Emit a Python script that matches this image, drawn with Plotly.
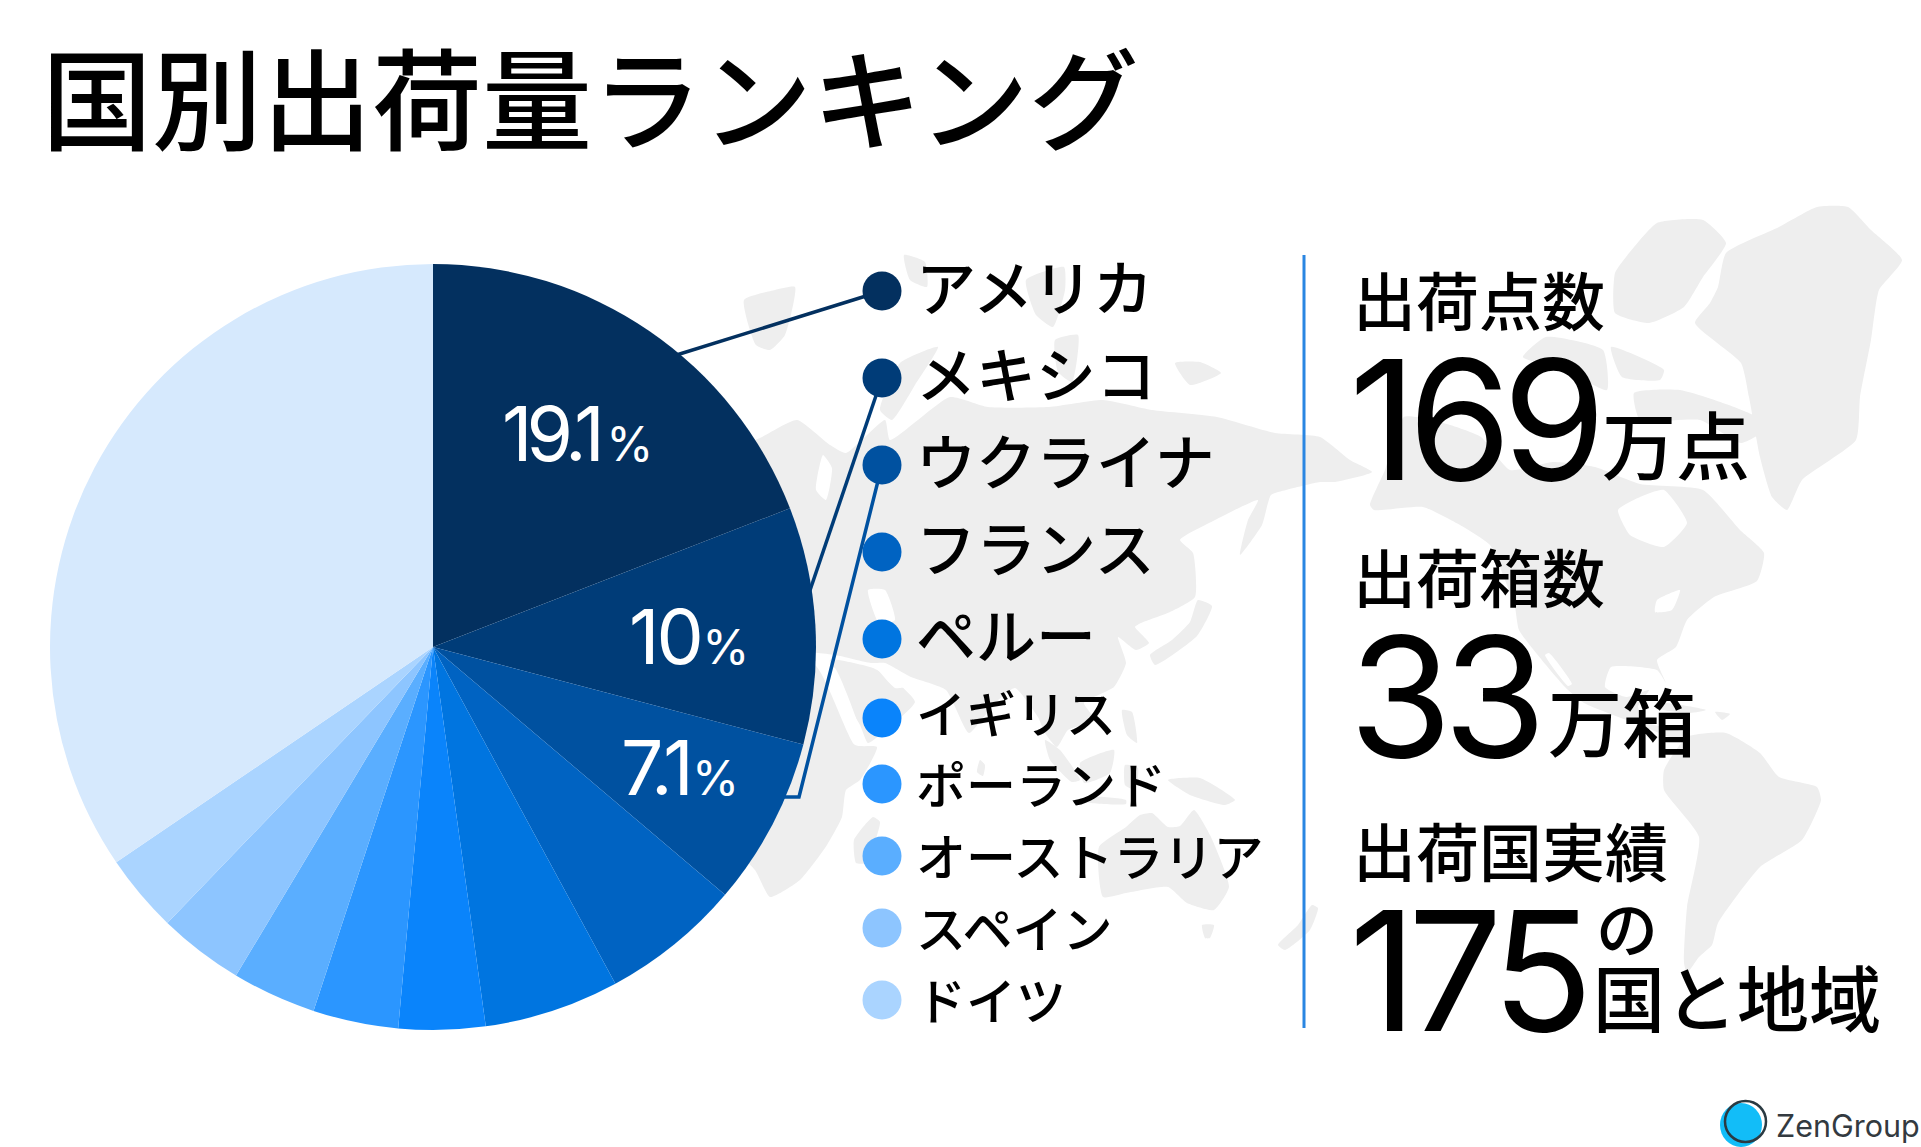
import json
import plotly.graph_objects as go

W, H = 1921, 1147

# ---- chart data ----
countries = ["アメリカ", "メキシコ", "ウクライナ", "フランス", "ペルー", "イギリス",
             "ポーランド", "オーストラリア", "スペイン", "ドイツ", "その他"]
shares = [19.1, 10.0, 7.1, 5.9, 5.7, 3.65, 3.6, 3.55, 3.6, 3.3, 34.5]
slice_colors = ["#03305f", "#003c78", "#0051a0", "#0063c2", "#0075e0", "#0a84fb",
                "#2b96ff", "#5aaeff", "#8dc5ff", "#aad4ff", "#d6e9fd"]
pct_labels = ["19.1", "10", "7.1"]
title_text = "国別出荷量ランキング"
stat_heads = ["出荷点数", "出荷箱数", "出荷国実績"]
stat_values = ["169", "33", "175"]
stat_units = ["万点", "万箱", "国と地域"]

# ---- layout helpers ----
CJK = "Noto Sans CJK JP"
LATIN = "Inter"
PIE_CX, PIE_CY, PIE_R = 433, 647, 383
DOT_X = 882
DOT_Y = [291, 378, 465, 552, 639, 718, 784, 856, 928, 1000]
LEG_Y = [284, 371, 458, 545, 632, 711, 782, 854, 926, 998]
LEG_SIZE = [60, 60, 60, 60, 60, 50, 50, 50, 50, 50]
LEG_X = 915

# ---- decorative world map silhouette (pixel tracing of the backdrop) ----
map_land = [
    # Eurasia
    [(700,470),(762,437),(797,420),(830,445),(846,453),(885,420),(890,440),(950,397),(988,407),(1049,407),
     (1103,400),(1152,410),(1217,417),(1275,433),(1320,437),(1350,460),(1372,472),(1335,482),(1320,482),
     (1286,490),(1271,495),(1262,525),(1240,555),(1248,520),(1258,500),(1215,520),(1180,540),(1193,553),
     (1195,597),(1170,612),(1141,623),(1135,627),(1149,643),(1136,650),(1118,637),(1126,663),(1114,687),
     (1084,703),(1095,720),(1068,730),(1057,747),(1045,733),(1038,717),(1015,688),(995,703),(969,733),
     (946,690),(911,677),(885,663),(871,663),(835,655),(790,650),(700,640)],
    # Arabia
    [(830,660),(873,668),(900,685),(915,702),(880,735),(868,743),(860,725),(840,690)],
    # Africa
    [(680,620),(815,665),(855,745),(877,747),(860,780),(846,790),(842,817),(827,845),(800,880),(770,897),(755,870),(690,800)],
    # Madagascar
    [(873,817),(880,822),(866,863),(856,863),(854,840)],
    # Sri Lanka
    [(980,760),(985,765),(983,776),(977,772)],
    # Svalbard
    [(744,300),(775,290),(795,287),(785,335),(770,350),(756,345)],
    # Franz Josef & Severnaya
    [(1026,280),(1064,267),(1065,290),(1053,327),(1036,315)],
    [(904,255),(925,262),(927,287),(910,280)],
    [(1175,363),(1200,362),(1221,373),(1190,385)],
    [(1055,340),(1078,335),(1072,382),(1058,372)],
    # Novaya Zemlya
    [(900,363),(938,347),(915,385),(892,420),(880,410)],
    # Japan
    [(1150,655),(1172,640),(1190,622),(1198,600),(1212,606),(1197,636),(1155,665)],
    # South-east Asia
    [(1045,740),(1060,750),(1080,780),(1072,782),(1050,760)],
    [(1080,763),(1114,750),(1110,773),(1084,783)],
    [(1087,797),(1126,800),(1126,804),(1087,802)],
    [(1125,765),(1138,768),(1135,790),(1125,785)],
    [(1122,710),(1132,712),(1137,743),(1127,735)],
    [(1168,780),(1200,778),(1235,800),(1225,805),(1190,795)],
    # Australia
    [(1099,847),(1126,827),(1140,815),(1152,813),(1168,827),(1180,826),(1194,810),(1210,835),(1229,887),
     (1214,910),(1187,903),(1168,887),(1126,893),(1103,897)],
    [(1202,925),(1214,925),(1210,938),(1205,938)],
    # New Zealand
    [(1312,905),(1318,908),(1310,930),(1285,950),(1278,945),(1298,925)],
    # Greenland
    [(1718,287),(1726,253),(1779,227),(1817,207),(1848,207),(1871,230),(1902,260),(1879,290),(1871,340),
     (1860,397),(1856,440),(1802,480),(1787,510),(1772,497),(1760,457),(1749,397),(1741,363),(1695,323),(1710,303)],
    # Canadian Arctic
    [(1626,257),(1657,223),(1703,220),(1726,243),(1703,277),(1684,307),(1649,323),(1615,313),(1615,273)],
    [(1634,393),(1680,390),(1756,417),(1760,433),(1741,443),(1700,420),(1640,420)],
    [(1523,357),(1546,337),(1603,350),(1607,390),(1565,370)],
    [(1611,347),(1664,370),(1660,380),(1622,377)],
    # North America
    [(1370,505),(1385,470),(1404,417),(1450,425),(1481,437),(1510,470),(1553,462),(1595,467),(1640,484),
     (1703,490),(1740,530),(1764,553),(1757,581),(1714,597),(1687,620),(1676,647),(1657,660),(1666,683),
     (1657,670),(1611,667),(1605,687),(1626,697),(1649,690),(1638,707),(1649,723),(1687,733),(1680,740),
     (1640,725),(1584,703),(1565,687),(1519,630),(1515,607),(1505,580),(1490,545),(1460,525),(1423,507),(1374,510)],
    # Cuba, Hispaniola
    [(1660,703),(1706,710),(1690,713),(1655,708)],
    [(1715,712),(1730,714),(1722,720)],
    # South America
    [(1687,737),(1726,733),(1760,753),(1779,777),(1817,787),(1821,800),(1802,840),(1760,867),(1718,923),
     (1712,945),(1699,957),(1687,973),(1684,963),(1687,907),(1699,837),(1664,790),(1664,770)],
]
map_water = [
    [(1618,510),(1640,497),(1664,490),(1687,523),(1664,547),(1630,535)],   # Hudson Bay
    [(868,590),(885,590),(895,620),(880,625)],                             # Caspian
    [(873,663),(885,668),(904,687),(895,688)],                             # Gulf
    [(823,663),(835,668),(860,733),(853,733)],                             # Red Sea
    [(823,455),(832,468),(826,500),(816,490)],                             # Baltic
    [(1657,600),(1680,590),(1672,610),(1655,612)],                         # Great Lakes
    [(1545,655),(1549,653),(1572,684),(1568,686)],                         # Gulf of California
]


def unpack(polys):
    xs, ys = [], []
    for poly in polys:
        for px, py in poly + poly[:1]:
            xs.append(px)
            ys.append(py)
        xs.append(None)
        ys.append(None)
    return xs, ys


fig = go.Figure()
mx, my = unpack(map_land)
fig.add_trace(go.Scatter(x=mx, y=my, mode="lines", fill="toself", fillcolor="#eeeeee",
                         line=dict(width=0, color="#eeeeee", shape="spline", smoothing=0.5),
                         hoverinfo="skip", showlegend=False))
wx, wy = unpack(map_water)
fig.add_trace(go.Scatter(x=wx, y=wy, mode="lines", fill="toself", fillcolor="#ffffff",
                         line=dict(width=0, color="#ffffff", shape="spline", smoothing=0.5),
                         hoverinfo="skip", showlegend=False))

# leader lines (run under the pie)
leaders = [
    ([DOT_X, 670], [DOT_Y[0], 357], slice_colors[0]),
    ([DOT_X, 805], [DOT_Y[1], 605], slice_colors[1]),
    ([DOT_X, 799, 740], [DOT_Y[2], 797, 797], slice_colors[2]),
]
for lx, ly, c in leaders:
    fig.add_trace(go.Scatter(x=lx, y=ly, mode="lines", line=dict(color=c, width=3.5),
                             hoverinfo="skip", showlegend=False))

# legend dots
fig.add_trace(go.Scatter(x=[DOT_X] * 10, y=DOT_Y, mode="markers",
                         marker=dict(size=39, color=slice_colors[:10], line=dict(width=0)),
                         hoverinfo="skip", showlegend=False))

# pie
fig.add_trace(go.Pie(
    labels=countries, values=shares, sort=False, direction="clockwise", rotation=0,
    marker=dict(colors=slice_colors, line=dict(width=0)), textinfo="none", hoverinfo="skip",
    showlegend=False,
    domain=dict(x=[(PIE_CX - PIE_R) / W, (PIE_CX + PIE_R) / W],
                y=[1 - (PIE_CY + PIE_R) / H, 1 - (PIE_CY - PIE_R) / H]),
))

annotations = []
spacing = {}


def text(x, y, s, size, color="#000000", family=CJK, anchor="left", weight=400):
    annotations.append(dict(x=x, y=y, xref="x", yref="y", text=s, showarrow=False,
                            xanchor=anchor, yanchor="middle", align="left", borderpad=0,
                            font=dict(family=family, size=size, color=color, weight=weight)))


# title
text(41, 94, title_text, 110, weight=500)

# legend labels
for name, yy, sz in zip(countries[:10], LEG_Y, LEG_SIZE):
    text(LEG_X, yy, name, sz, weight=500)

# pie percent labels
pct_pos = [(501, 433), (628, 636), (620, 767)]
pct_track = [-6, -3, -3]
pct_gap = [" ", "\u200a", "\u200a"]
for lab, (px, py), tr, gap in zip(pct_labels, pct_pos, pct_track, pct_gap):
    s = f"{lab}<span style='font-size:48px'>{gap}%</span>"
    text(px, py, s, 75, color="#ffffff", family=LATIN, weight=380)
    spacing[f"{lab}{gap}%"] = tr

# right-hand stats
head_y = [297, 574, 848]
val_y = [419, 696, 970]
unit_pos = [(1601, 441), (1547, 718), (1592, 994)]
unit_size = [74, 74, 72]
for h, hy, v, vy, u, (ux, uy), us in zip(stat_heads, head_y, stat_values, val_y, stat_units, unit_pos, unit_size):
    text(1352, hy, h, 63, weight=500)
    text(1348, vy, v, 167, family=LATIN, weight=400)
    spacing[v] = -9
    text(ux, uy, u, us, weight=500)
text(1595, 926, "の", 62, weight=500)

# logo word
text(1775, 1125, "ZenGroup", 30.5, color="#333a40", family=LATIN)

shapes = [
    dict(type="line", x0=1304, x1=1304, y0=255, y1=1028, xref="x", yref="y",
         line=dict(color="#2a86e2", width=3)),
    dict(type="circle", x0=1720, x1=1762, y0=1103, y1=1147, xref="x", yref="y",
         fillcolor="#12bdf8", line=dict(width=0)),
    dict(type="circle", x0=1725, x1=1766, y0=1101, y1=1142, xref="x", yref="y",
         fillcolor="rgba(0,0,0,0)", line=dict(color="#2b3a42", width=2.5)),
]

fig.update_layout(
    width=W, height=H, margin=dict(l=0, r=0, t=0, b=0, pad=0, autoexpand=False),
    paper_bgcolor="#ffffff", plot_bgcolor="#ffffff",
    xaxis=dict(range=[0, W], visible=False, fixedrange=True, domain=[0, 1]),
    yaxis=dict(range=[H, 0], visible=False, fixedrange=True, domain=[0, 1]),
    annotations=annotations, shapes=shapes, showlegend=False, hovermode=False,
)

post = """
document.body.style.margin='0';
var sp=%s;
document.querySelectorAll('.annotation-text').forEach(function(t){
  var s=sp[t.textContent]; if(s!==undefined){t.style.letterSpacing=s+'px';}
});
""" % json.dumps(spacing, ensure_ascii=False)

fig.write_html("out.html", config=dict(displayModeBar=False), post_script=post)
